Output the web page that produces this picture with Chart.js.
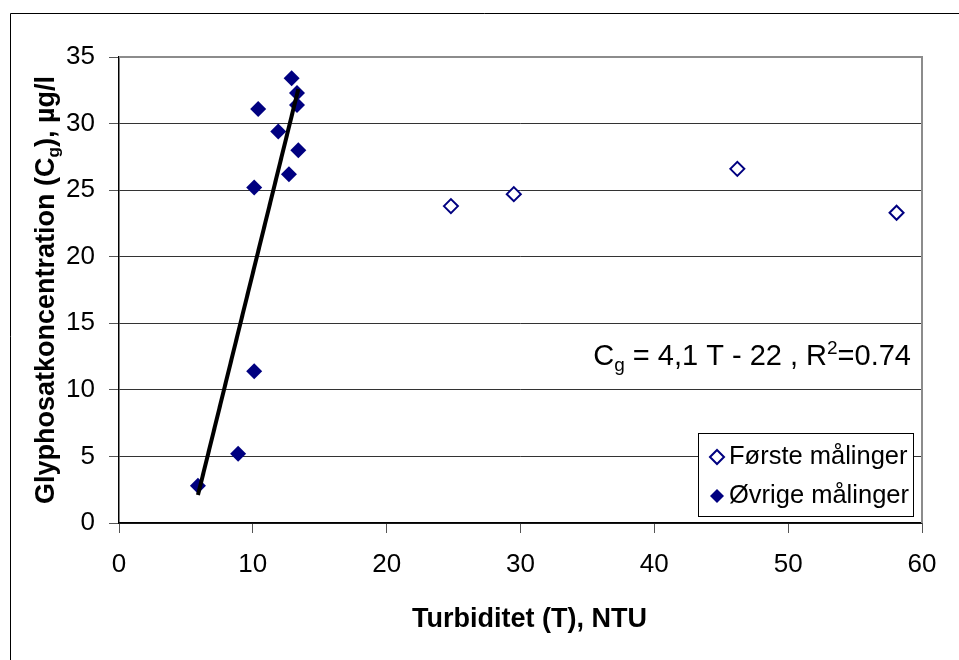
<!DOCTYPE html>
<html>
<head>
<meta charset="utf-8">
<script src="https://cdn.jsdelivr.net/npm/chart.js@4.4.1/dist/chart.umd.min.js"></script>
<style>
  html, body { margin: 0; padding: 0; background: #fff; }
  canvas { display: block; }
</style>
</head>
<body>
<canvas id="graph" width="959" height="660"></canvas>
<script>
// Første målinger (open diamonds)
var firstX = [24.8, 29.5, 46.2, 58.1];
var firstY = [23.8, 24.7, 26.6, 23.3];

// Øvrige målinger (filled diamonds)
var otherX = [5.9, 8.9, 10.1, 10.1, 10.4, 11.9, 12.7, 12.9, 13.3, 13.3, 13.4];
var otherY = [2.8, 5.2, 11.4, 25.2, 31.1, 29.4, 26.2, 33.4, 32.3, 31.4, 28.0];

// ends of the fitted line
var trendX = [5.9, 13.4];
var trendY = [2.1, 32.6];

var xTicks = [0, 10, 20, 30, 40, 50, 60];
var yTicks = [0, 5, 10, 15, 20, 25, 30, 35];

var seriesNames = ["Første målinger", "Øvrige målinger"];
var xTitle = "Turbiditet (T), NTU";

var NAVY = '#000080';
var FONT = '"Liberation Sans", Arial, sans-serif';

function pts(xs, ys) {
    return xs.map(function (x, i) { return {x: x, y: ys[i]}; });
}

// draws the frame, the grey plot border, axis titles, equation and legend
var extras = {
    id: 'extras',
    beforeDraw: function (chart) {
        var ctx = chart.ctx;
        ctx.save();
        ctx.fillStyle = '#fff';
        ctx.fillRect(0, 0, chart.width, chart.height);
        ctx.strokeStyle = '#000';
        ctx.lineWidth = 1;
        ctx.beginPath();
        ctx.moveTo(10.5, chart.height);
        ctx.lineTo(10.5, 13.5);
        ctx.lineTo(chart.width, 13.5);
        ctx.stroke();
        ctx.restore();
    },
    beforeDatasetsDraw: function (chart) {
        var ctx = chart.ctx, a = chart.chartArea;
        ctx.save();
        ctx.strokeStyle = '#8c8c8c';
        ctx.lineWidth = 2;
        ctx.beginPath();
        ctx.moveTo(a.left, a.top);
        ctx.lineTo(a.right, a.top);
        ctx.lineTo(a.right, a.bottom);
        ctx.stroke();
        ctx.restore();
    },
    afterDraw: function (chart) {
        var ctx = chart.ctx, a = chart.chartArea;
        var sx = chart.scales.x, sy = chart.scales.y;

        // x axis title (a bit right of centre, like the original)
        ctx.save();
        ctx.fillStyle = '#000';
        ctx.font = 'bold 27px ' + FONT;
        ctx.textAlign = 'center';
        ctx.textBaseline = 'alphabetic';
        ctx.fillText(xTitle, (a.left + a.right) / 2 + 9, 627);
        ctx.restore();

        // y axis title with subscript g
        var yParts = [
            {t: 'Glyphosatkoncentration (C', f: 'bold 27px ' + FONT, dy: 0},
            {t: 'g', f: 'bold 17px ' + FONT, dy: 5},
            {t: '), µg/l', f: 'bold 27px ' + FONT, dy: 0}
        ];
        ctx.save();
        ctx.fillStyle = '#000';
        ctx.textBaseline = 'alphabetic';
        var total = 0;
        yParts.forEach(function (p) { ctx.font = p.f; p.w = ctx.measureText(p.t).width; total += p.w; });
        ctx.translate(54, (a.top + a.bottom) / 2);
        ctx.rotate(-Math.PI / 2);
        var cx = -total / 2;
        yParts.forEach(function (p) { ctx.font = p.f; ctx.fillText(p.t, cx, p.dy); cx += p.w; });
        ctx.restore();

        // regression equation
        var eq = [
            {t: 'C', f: '29px ' + FONT, dy: 0},
            {t: 'g', f: '19px ' + FONT, dy: 6},
            {t: ' = 4,1 T - 22 , R', f: '29px ' + FONT, dy: 0},
            {t: '2', f: '19px ' + FONT, dy: -11},
            {t: '=0.74', f: '29px ' + FONT, dy: 0}
        ];
        ctx.save();
        ctx.fillStyle = '#000';
        ctx.textBaseline = 'alphabetic';
        total = 0;
        eq.forEach(function (p) { ctx.font = p.f; p.w = ctx.measureText(p.t).width; total += p.w; });
        var ex = sx.getPixelForValue(60) - 11 - total;
        var ey = sy.getPixelForValue(11.85);
        eq.forEach(function (p) { ctx.font = p.f; ctx.fillText(p.t, ex, ey + p.dy); ex += p.w; });
        ctx.restore();

        // legend box
        var bx = a.right - 224, by = a.bottom - 90, bw = 215, bh = 83;
        ctx.save();
        ctx.fillStyle = '#fff';
        ctx.fillRect(bx, by, bw, bh);
        ctx.strokeStyle = '#000';
        ctx.lineWidth = 1;
        ctx.strokeRect(bx + 0.5, by + 0.5, bw, bh);
        ctx.font = '25.5px ' + FONT;
        ctx.fillStyle = '#000';
        ctx.textBaseline = 'alphabetic';
        var rows = [by + 24, by + 63];
        rows.forEach(function (ry, i) {
            var r = 7, dx = bx + 19;
            ctx.beginPath();
            ctx.moveTo(dx - r, ry);
            ctx.lineTo(dx, ry - r);
            ctx.lineTo(dx + r, ry);
            ctx.lineTo(dx, ry + r);
            ctx.closePath();
            if (i === 0) {
                ctx.fillStyle = '#fff';
                ctx.fill();
                ctx.strokeStyle = NAVY;
                ctx.lineWidth = 2;
                ctx.stroke();
            } else {
                ctx.fillStyle = NAVY;
                ctx.fill();
            }
            ctx.fillStyle = '#000';
            ctx.fillText(seriesNames[i], bx + 31, ry + 7);
        });
        ctx.restore();
    }
};

new Chart(document.getElementById('graph'), {
    type: 'scatter',
    data: {
        datasets: [{
            label: 'trend',
            data: pts(trendX, trendY),
            showLine: true,
            borderColor: '#000',
            borderWidth: 4,
            pointRadius: 0,
            order: 0
        }, {
            label: seriesNames[0],
            data: pts(firstX, firstY),
            pointStyle: 'rectRot',
            pointRadius: 7,
            pointHoverRadius: 7,
            backgroundColor: '#fff',
            borderColor: NAVY,
            borderWidth: 2,
            order: 1
        }, {
            label: seriesNames[1],
            data: pts(otherX, otherY),
            pointStyle: 'rectRot',
            pointRadius: 8,
            pointHoverRadius: 8,
            backgroundColor: NAVY,
            borderColor: NAVY,
            borderWidth: 0,
            order: 2
        }]
    },
    options: {
        responsive: false,
        animation: false,
        layout: { padding: { top: 57, right: 37, bottom: 0, left: 0 } },
        plugins: {
            legend: { display: false },
            tooltip: { enabled: false }
        },
        scales: {
            x: {
                type: 'linear',
                min: xTicks[0],
                max: xTicks[xTicks.length - 1],
                afterBuildTicks: function (s) { s.ticks = xTicks.map(function (v) { return {value: v}; }); },
                afterFit: function (s) { s.height = 137; },
                grid: { drawOnChartArea: false, drawTicks: true, tickLength: 10, tickColor: '#555' },
                border: { color: '#000', width: 1.5 },
                ticks: { color: '#000', padding: 16, font: { family: FONT, size: 26 } },
                title: { display: false }
            },
            y: {
                type: 'linear',
                min: yTicks[0],
                max: yTicks[yTicks.length - 1],
                afterBuildTicks: function (s) { s.ticks = yTicks.map(function (v) { return {value: v}; }); },
                afterFit: function (s) { s.width = 119; },
                grid: { color: '#333', lineWidth: 1, tickLength: 10, tickColor: '#555' },
                border: { color: '#000', width: 1.5 },
                ticks: { color: '#000', padding: 14, font: { family: FONT, size: 26 } }
            }
        }
    },
    plugins: [extras]
});
</script>
</body>
</html>
